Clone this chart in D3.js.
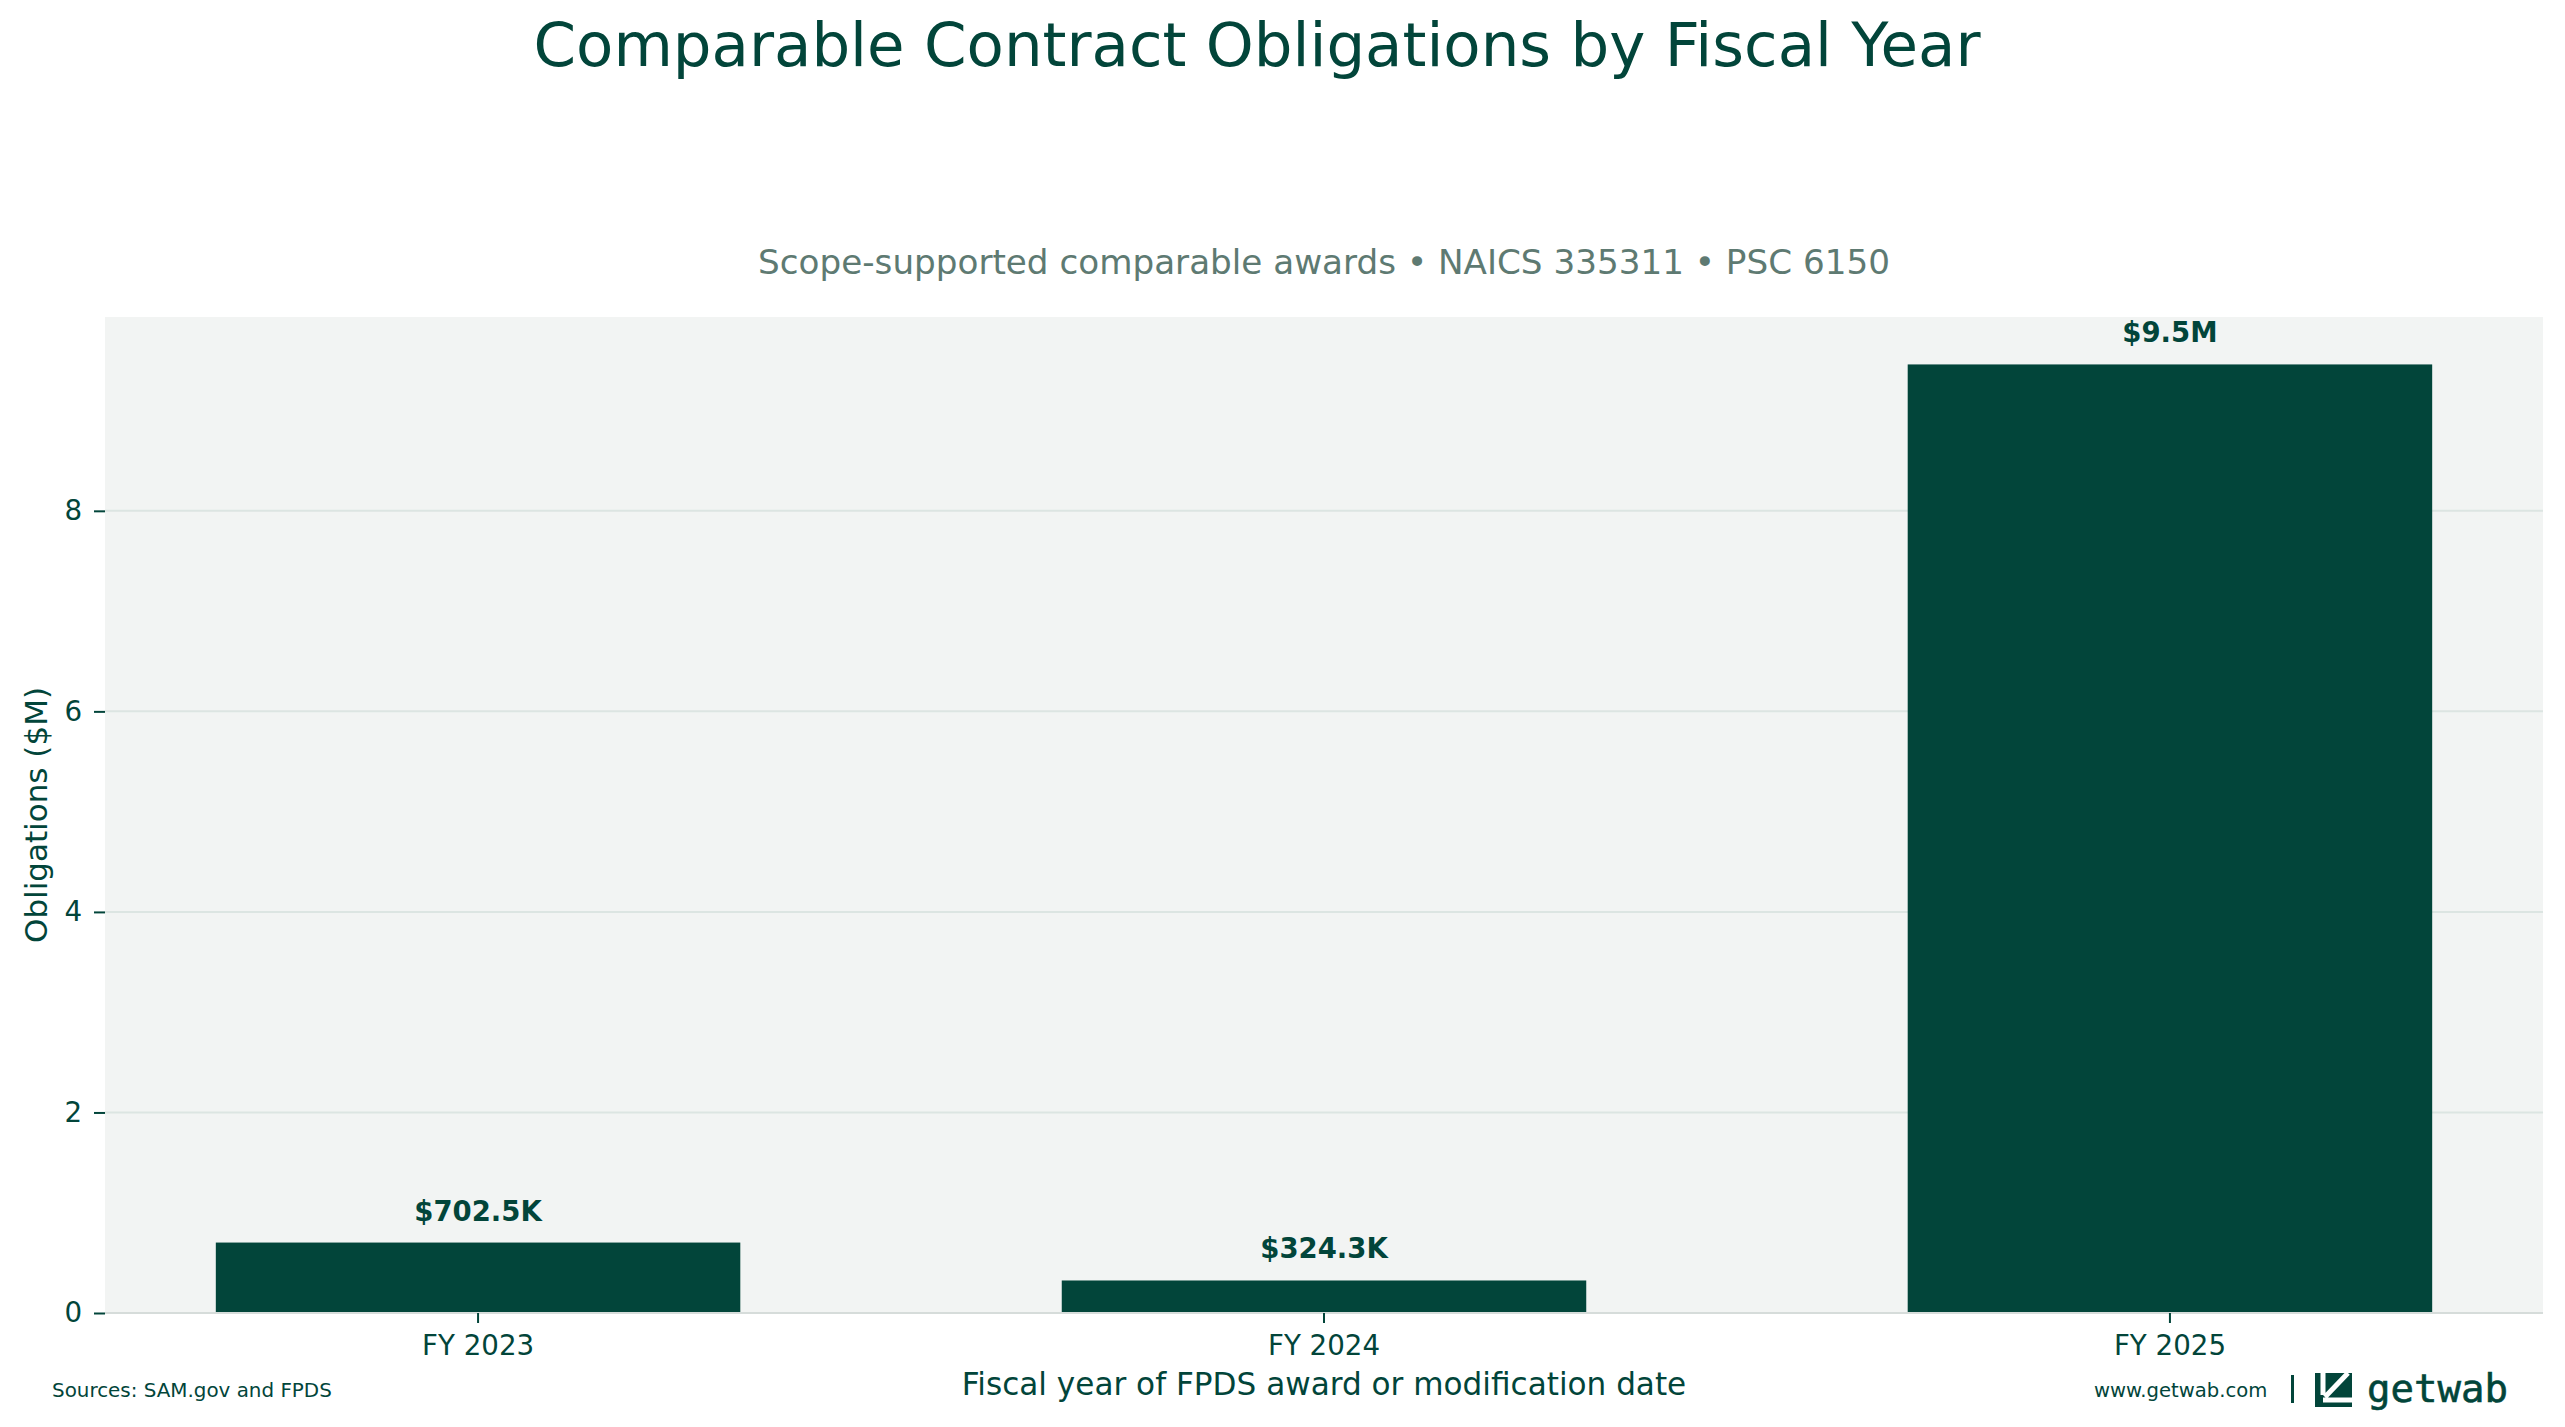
<!DOCTYPE html>
<html>
<head>
<meta charset="utf-8">
<script src="https://cdn.jsdelivr.net/npm/d3@7"></script>
<style>
  html, body { margin: 0; padding: 0; background: #ffffff; }
  svg { display: block; }
  text { font-family: "DejaVu Sans", sans-serif; }
</style>
</head>
<body>
<svg id="chart" width="2565" height="1427"></svg>
<script>
// ---- data ----
const categories = ["FY 2023", "FY 2024", "FY 2025"];
const obligationsM = [0.7025, 0.3243, 9.46];
const valueLabels = ["$702.5K", "$324.3K", "$9.5M"];
const yTickValues = [0, 2, 4, 6, 8];

const titleText = "Comparable Contract Obligations by Fiscal Year";
const subtitleText = "Scope-supported comparable awards \u2022 NAICS 335311 \u2022 PSC 6150";
const xLabelText = "Fiscal year of FPDS award or modification date";
const yLabelText = "Obligations ($M)";
const sourceText = "Sources: SAM.gov and FPDS";
const siteText = "www.getwab.com";
const brandText = "getwab";

// ---- styles ----
const DARK = "#02453a";
const SUB = "#5e7a72";
const PLOTBG = "#f2f4f3";
const GRID = "#dce5e2";
const SPINE = "#d6dcda";

const plotL = 105, plotR = 2543, plotT = 317, plotB = 1313;

const svg = d3.select("#chart");

const x = d3.scaleBand()
  .domain(categories)
  .range([plotL, plotR])
  .paddingInner(0.38)
  .paddingOuter(0.131);

const yMax = d3.max(obligationsM) * 1.05;
const y = d3.scaleLinear().domain([0, yMax]).range([plotB, plotT]);

// plot background
svg.append("rect")
  .attr("x", plotL).attr("y", plotT)
  .attr("width", plotR - plotL).attr("height", plotB - plotT)
  .attr("fill", PLOTBG);

// grid lines
svg.append("g").selectAll("line")
  .data(yTickValues.filter(d => d > 0))
  .join("line")
  .attr("x1", plotL).attr("x2", plotR)
  .attr("y1", d => y(d)).attr("y2", d => y(d))
  .attr("stroke", GRID).attr("stroke-width", 2);

// bars
svg.append("g").selectAll("rect")
  .data(categories)
  .join("rect")
  .attr("x", d => x(d))
  .attr("width", x.bandwidth())
  .attr("y", (d, i) => y(obligationsM[i]))
  .attr("height", (d, i) => y(0) - y(obligationsM[i]))
  .attr("fill", DARK);

// bottom spine
svg.append("line")
  .attr("x1", plotL).attr("x2", plotR)
  .attr("y1", y(0)).attr("y2", y(0))
  .attr("stroke", SPINE).attr("stroke-width", 2);

// value labels
svg.append("g").selectAll("text")
  .data(categories)
  .join("text")
  .attr("x", d => x(d) + x.bandwidth() / 2)
  .attr("y", (d, i) => y(obligationsM[i]) - 22)
  .attr("text-anchor", "middle")
  .attr("font-size", 27.5)
  .attr("font-weight", "bold")
  .attr("fill", DARK)
  .text((d, i) => valueLabels[i]);

// y axis
const yAxis = svg.append("g")
  .attr("transform", `translate(${plotL},0)`)
  .call(d3.axisLeft(y).tickValues(yTickValues).tickFormat(d3.format("d")).tickSize(11).tickPadding(12));
yAxis.select(".domain").remove();
yAxis.selectAll("line").attr("stroke", DARK).attr("stroke-width", 2);
yAxis.selectAll("text").attr("font-size", 27.7).attr("fill", DARK);

// x axis
const xAxis = svg.append("g")
  .attr("transform", `translate(0,${plotB})`)
  .call(d3.axisBottom(x).tickSize(10).tickPadding(12.3));
xAxis.select(".domain").remove();
xAxis.selectAll("line").attr("stroke", DARK).attr("stroke-width", 2);
xAxis.selectAll("text").attr("font-size", 27.7).attr("fill", DARK);

// axis labels
svg.append("text")
  .attr("x", (plotL + plotR) / 2).attr("y", 1395)
  .attr("text-anchor", "middle")
  .attr("font-size", 31.1).attr("fill", DARK)
  .text(xLabelText);

svg.append("text")
  .attr("transform", `translate(47,${(plotT + plotB) / 2}) rotate(-90)`)
  .attr("text-anchor", "middle")
  .attr("font-size", 31).attr("fill", DARK)
  .text(yLabelText);

// title & subtitle
svg.append("text")
  .attr("x", 1257).attr("y", 66)
  .attr("text-anchor", "middle")
  .attr("font-size", 61).attr("fill", DARK)
  .text(titleText);

svg.append("text")
  .attr("x", (plotL + plotR) / 2).attr("y", 274)
  .attr("text-anchor", "middle")
  .attr("font-size", 34.2).attr("fill", SUB)
  .text(subtitleText);

// footer
svg.append("text")
  .attr("x", 52).attr("y", 1397)
  .attr("font-size", 19.9).attr("fill", DARK)
  .text(sourceText);

svg.append("text")
  .attr("x", 2094).attr("y", 1397)
  .attr("font-size", 19.6).attr("fill", DARK)
  .text(siteText);

svg.append("rect")
  .attr("x", 2291).attr("y", 1375).attr("width", 3).attr("height", 28)
  .attr("fill", DARK);

// logo icon: dark square with white down-left arrow
const logo = svg.append("g").attr("transform", "translate(2315,1373)");
logo.append("rect").attr("width", 37).attr("height", 34).attr("fill", DARK);
logo.append("path")
  .attr("d", "M8,0 L8,22 M8,27 L37,27 M10,24 L33,0")
  .attr("stroke", "#ffffff").attr("stroke-width", 5).attr("fill", "none");

svg.append("text")
  .attr("x", 2367).attr("y", 1402)
  .style("font-family", "'DejaVu Sans Mono', monospace")
  .style("font-size", "39px")
  .style("font-weight", "normal")
  .attr("fill", DARK)
  .attr("stroke", DARK)
  .attr("stroke-width", 0.6)
  .text(brandText);
</script>
</body>
</html>
